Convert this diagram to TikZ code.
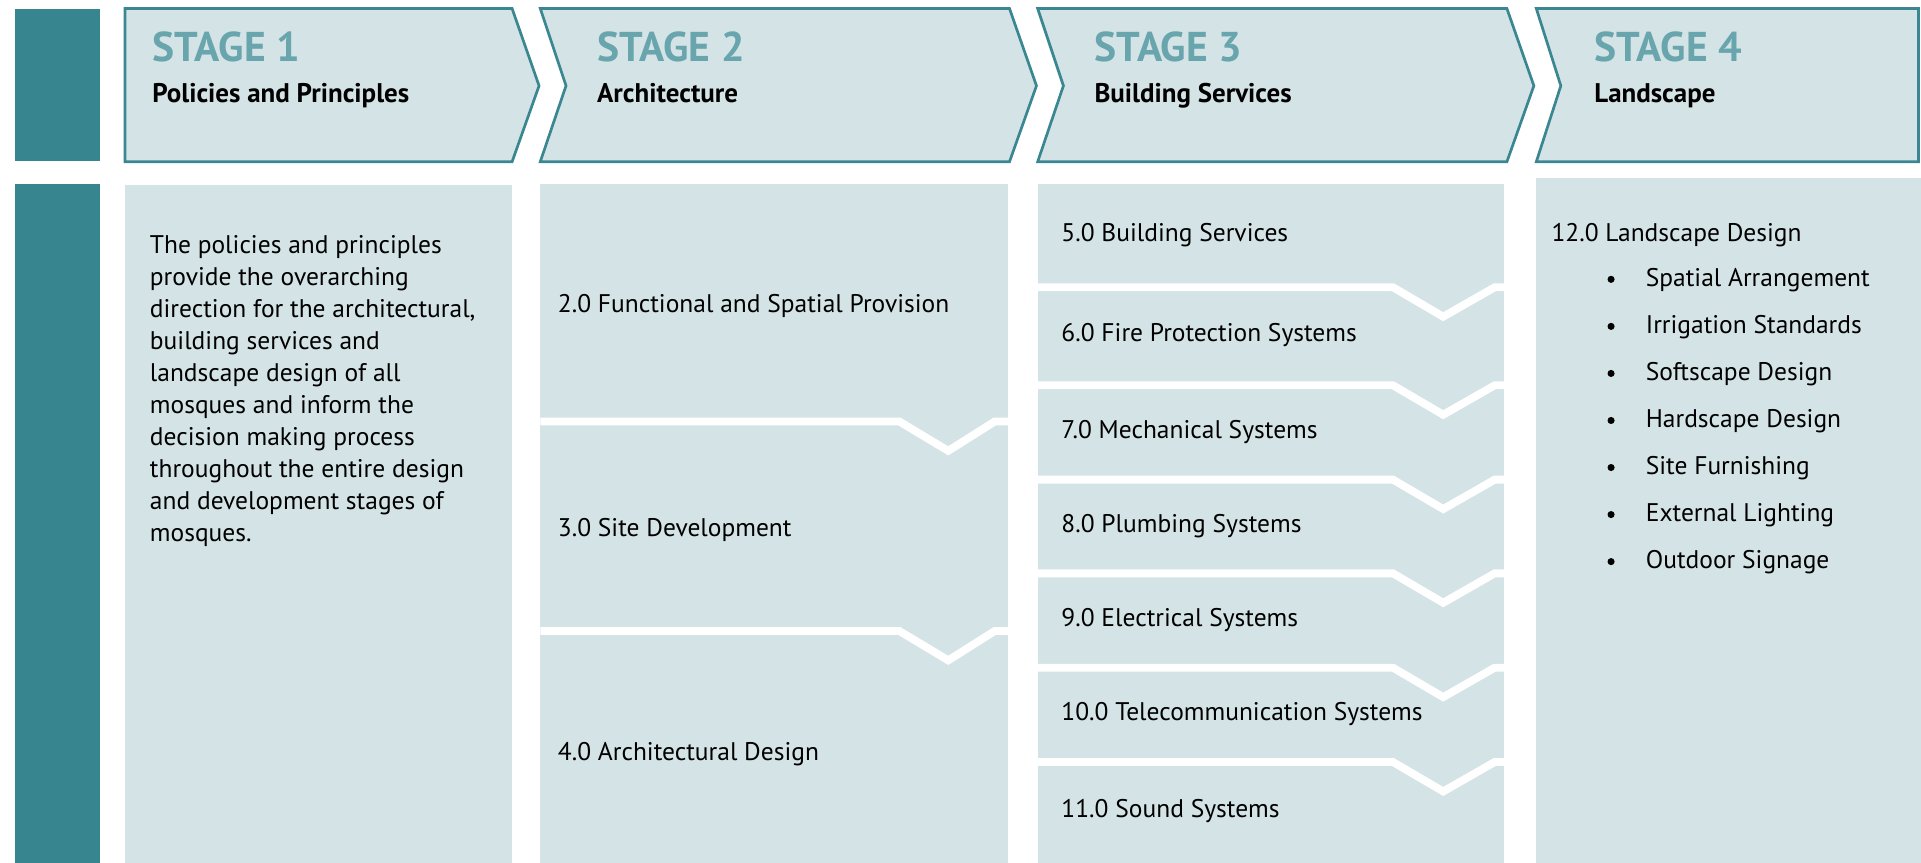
\documentclass[tikz,border=0pt]{standalone}
\usepackage{fontspec}
\setmainfont{PT Sans}
\newfontfamily\stagefont{PT Sans}
\definecolor{tealdark}{HTML}{37868F}
\definecolor{tealline}{HTML}{3A8791}
\definecolor{panel}{HTML}{D4E3E6}
\definecolor{stagecol}{HTML}{69A5AD}
\tikzset{
  chev/.style={fill=panel,draw=tealline,line width=1.1pt,line join=miter},
  panelbox/.style={fill=panel,draw=none},
  bar/.style={fill=tealdark,draw=none},
  sep/.style={draw=white,line width=3.2pt,line join=miter,line cap=butt},
  stagetitle/.style={anchor=base west,inner sep=0pt,text=stagecol,font=\stagefont\bfseries\fontsize{17}{20}\selectfont},
  stagesub/.style={anchor=base west,inner sep=0pt,text=black,font=\bfseries\fontsize{11}{12}\selectfont},
  item/.style={anchor=base west,inner sep=0pt,text=black,font=\fontsize{10.4}{12}\selectfont},
}
\begin{document}
\begin{tikzpicture}[x=0.5pt,y=-0.5pt]
\useasboundingbox (0,0) rectangle (1568,703.6);
% left bars
\fill[bar] (12,7) rectangle (82,131);
\fill[bar] (12,150) rectangle (82,704);
% chevrons
\draw[chev] (102,7) -- (418,7) -- (440,70) -- (418,132) -- (102,132) -- cycle;
\draw[chev] (441,7) -- (824,7) -- (846,70) -- (824,132) -- (441,132) -- (462,70) -- cycle;
\draw[chev] (847,7) -- (1230,7) -- (1252,70) -- (1230,132) -- (847,132) -- (868,70) -- cycle;
\draw[chev] (1254,7) -- (1566,7) -- (1566,132) -- (1254,132) -- (1274,70) -- cycle;
\node[stagetitle] (s1) at (124,50) {STAGE 1};
\node[stagesub] (t1) at (124,84) {Policies and Principles};
\node[stagetitle] (s2) at (487,50) {STAGE 2};
\node[stagesub] (t2) at (487,84) {Architecture};
\node[stagetitle] (s3) at (893,50) {STAGE 3};
\node[stagesub] (t3) at (893,84) {Building Services};
\node[stagetitle] (s4) at (1301,50) {STAGE 4};
\node[stagesub] (t4) at (1301,84) {Landscape};
% panels
\fill[panelbox] (102,151) rectangle (418,704);
\fill[panelbox] (441,150) rectangle (823,704);
\fill[panelbox] (847,150) rectangle (1228,704);
\fill[panelbox] (1254,145) rectangle (1568,704);
% separators col 2
\foreach \yy in {344,515}{
  \draw[sep] (441,\yy) -- (734,\yy) -- (774,\yy+24) -- (812,\yy) -- (823,\yy);
}
% separators col 3
\foreach \yy in {234.5,314.5,391.5,468,545,622}{
  \draw[sep] (847,\yy) -- (1137,\yy) -- (1178,\yy+24) -- (1220,\yy) -- (1228,\yy);
}
% col 1 text
\node[anchor=north west,inner sep=0pt,align=left,font=\fontsize{10.4}{13.05}\selectfont] (p1) at (122,192)
{The policies and principles\\provide the overarching\\direction for the architectural,\\building services and\\landscape design of all\\mosques and inform the\\decision making process\\throughout the entire design\\and development stages of\\mosques.};
% col 2 text
\node[item] (a2) at (455,255) {2.0 Functional and Spatial Provision};
\node[item] (a3) at (455,438) {3.0 Site Development};
\node[item] (a4) at (455,621) {4.0 Architectural Design};
% col 3 text
\node[item] (b5) at (866,197) {5.0 Building Services};
\node[item] (b6) at (866,279) {6.0 Fire Protection Systems};
\node[item] (b7) at (866,358) {7.0 Mechanical Systems};
\node[item] (b8) at (866,435) {8.0 Plumbing Systems};
\node[item] (b9) at (866,511) {9.0 Electrical Systems};
\node[item] (b10) at (866,588) {10.0 Telecommunication Systems};
\node[item] (b11) at (866,667) {11.0 Sound Systems};
% col 4 text
\node[item] (c12) at (1266,197) {12.0 Landscape Design};
\foreach \t [count=\i from 0] in {Spatial Arrangement,Irrigation Standards,Softscape Design,Hardscape Design,Site Furnishing,External Lighting,Outdoor Signage}{
  \fill[black] (1315,228+\i*38.4) circle (2.9);
  \node[item] (l\i) at (1343,234+\i*38.4) {\t};
}
\end{tikzpicture}
\end{document}
